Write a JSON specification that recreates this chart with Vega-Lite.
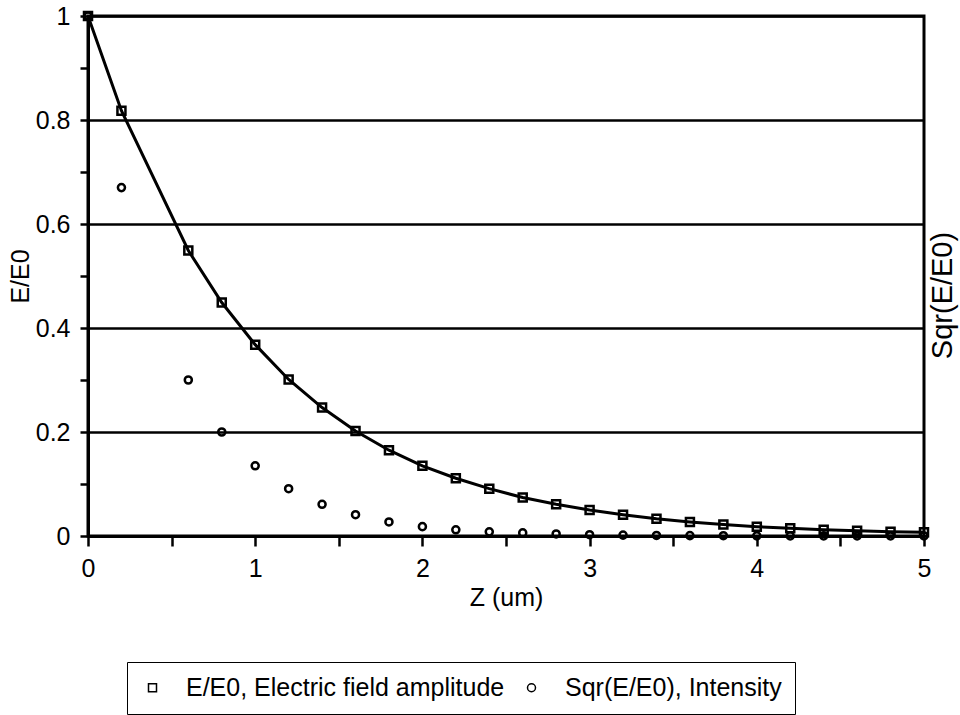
{
  "$schema": "https://vega.github.io/schema/vega-lite/v6.json",
  "width": 836,
  "height": 520,
  "autosize": "none",
  "padding": {"left": 88, "top": 16, "right": 36, "bottom": 179},
  "background": "white",
  "config": {
    "view": {"stroke": "black", "strokeWidth": 3},
    "font": "Liberation Sans",
    "axis": {
      "domainColor": "black", "domainWidth": 3, "tickColor": "black", "tickWidth": 2.5,
      "labelFont": "Liberation Sans", "labelFontSize": 25, "labelColor": "black",
      "titleFont": "Liberation Sans", "titleFontSize": 25, "titleFontWeight": "normal", "titleColor": "black"
    }
  },
  "data": {"values": [
    {"z": 0, "v": 1.0, "s": "E/E0, Electric field amplitude"},
    {"z": 0.2, "v": 0.818, "s": "E/E0, Electric field amplitude"},
    {"z": 0.6, "v": 0.549, "s": "E/E0, Electric field amplitude"},
    {"z": 0.8, "v": 0.449, "s": "E/E0, Electric field amplitude"},
    {"z": 1.0, "v": 0.368, "s": "E/E0, Electric field amplitude"},
    {"z": 1.2, "v": 0.301, "s": "E/E0, Electric field amplitude"},
    {"z": 1.4, "v": 0.247, "s": "E/E0, Electric field amplitude"},
    {"z": 1.6, "v": 0.202, "s": "E/E0, Electric field amplitude"},
    {"z": 1.8, "v": 0.165, "s": "E/E0, Electric field amplitude"},
    {"z": 2.0, "v": 0.135, "s": "E/E0, Electric field amplitude"},
    {"z": 2.2, "v": 0.111, "s": "E/E0, Electric field amplitude"},
    {"z": 2.4, "v": 0.091, "s": "E/E0, Electric field amplitude"},
    {"z": 2.6, "v": 0.074, "s": "E/E0, Electric field amplitude"},
    {"z": 2.8, "v": 0.061, "s": "E/E0, Electric field amplitude"},
    {"z": 3.0, "v": 0.050, "s": "E/E0, Electric field amplitude"},
    {"z": 3.2, "v": 0.041, "s": "E/E0, Electric field amplitude"},
    {"z": 3.4, "v": 0.033, "s": "E/E0, Electric field amplitude"},
    {"z": 3.6, "v": 0.027, "s": "E/E0, Electric field amplitude"},
    {"z": 3.8, "v": 0.022, "s": "E/E0, Electric field amplitude"},
    {"z": 4.0, "v": 0.018, "s": "E/E0, Electric field amplitude"},
    {"z": 4.2, "v": 0.015, "s": "E/E0, Electric field amplitude"},
    {"z": 4.4, "v": 0.012, "s": "E/E0, Electric field amplitude"},
    {"z": 4.6, "v": 0.010, "s": "E/E0, Electric field amplitude"},
    {"z": 4.8, "v": 0.008, "s": "E/E0, Electric field amplitude"},
    {"z": 5.0, "v": 0.007, "s": "E/E0, Electric field amplitude"},
    {"z": 0, "v": 1.0, "s": "Sqr(E/E0), Intensity"},
    {"z": 0.2, "v": 0.67, "s": "Sqr(E/E0), Intensity"},
    {"z": 0.6, "v": 0.30, "s": "Sqr(E/E0), Intensity"},
    {"z": 0.8, "v": 0.20, "s": "Sqr(E/E0), Intensity"},
    {"z": 1.0, "v": 0.135, "s": "Sqr(E/E0), Intensity"},
    {"z": 1.2, "v": 0.091, "s": "Sqr(E/E0), Intensity"},
    {"z": 1.4, "v": 0.061, "s": "Sqr(E/E0), Intensity"},
    {"z": 1.6, "v": 0.041, "s": "Sqr(E/E0), Intensity"},
    {"z": 1.8, "v": 0.027, "s": "Sqr(E/E0), Intensity"},
    {"z": 2.0, "v": 0.018, "s": "Sqr(E/E0), Intensity"},
    {"z": 2.2, "v": 0.012, "s": "Sqr(E/E0), Intensity"},
    {"z": 2.4, "v": 0.008, "s": "Sqr(E/E0), Intensity"},
    {"z": 2.6, "v": 0.006, "s": "Sqr(E/E0), Intensity"},
    {"z": 2.8, "v": 0.004, "s": "Sqr(E/E0), Intensity"},
    {"z": 3.0, "v": 0.0025, "s": "Sqr(E/E0), Intensity"},
    {"z": 3.2, "v": 0.0017, "s": "Sqr(E/E0), Intensity"},
    {"z": 3.4, "v": 0.0011, "s": "Sqr(E/E0), Intensity"},
    {"z": 3.6, "v": 0.0007, "s": "Sqr(E/E0), Intensity"},
    {"z": 3.8, "v": 0.0005, "s": "Sqr(E/E0), Intensity"},
    {"z": 4.0, "v": 0.0003, "s": "Sqr(E/E0), Intensity"},
    {"z": 4.2, "v": 0.0002, "s": "Sqr(E/E0), Intensity"},
    {"z": 4.4, "v": 0.0002, "s": "Sqr(E/E0), Intensity"},
    {"z": 4.6, "v": 0.0001, "s": "Sqr(E/E0), Intensity"},
    {"z": 4.8, "v": 0.0001, "s": "Sqr(E/E0), Intensity"},
    {"z": 5.0, "v": 0.00005, "s": "Sqr(E/E0), Intensity"}
  ]},
  "encoding": {
    "x": {
      "field": "z", "type": "quantitative",
      "scale": {"domain": [0, 5], "nice": false},
      "axis": {
        "title": "Z (um)", "grid": false, "format": "~g",
        "values": [0, 0.5, 1, 1.5, 2, 2.5, 3, 3.5, 4, 4.5, 5],
        "labelExpr": "datum.value % 1 === 0 ? datum.label : ''",
        "tickSize": 10, "labelPadding": 10, "titlePadding": 4, "labelFlush": false
      }
    }
  },
  "layer": [
    {
      "layer": [
        {
          "transform": [{"filter": "datum.s === 'E/E0, Electric field amplitude'"}],
          "mark": {"type": "line", "color": "black", "strokeWidth": 3},
          "encoding": {
            "y": {
              "field": "v", "type": "quantitative",
              "scale": {"domain": [0, 1], "nice": false},
              "axis": {
                "title": "E/E0", "titlePadding": 2, "format": "~g",
                "values": [0, 0.1, 0.2, 0.3, 0.4, 0.5, 0.6, 0.7, 0.8, 0.9, 1],
                "labelExpr": "round(datum.value * 10) % 2 === 0 ? datum.label : ''",
                "tickSize": 8, "labelPadding": 10, "labelFlush": false,
                "grid": true, "gridColor": "black", "gridWidth": 2.5,
                "gridOpacity": {"condition": {"test": "round(datum.value * 10) % 2 === 0", "value": 1}, "value": 0}
              }
            }
          }
        },
        {
          "transform": [{"filter": "datum.s === 'E/E0, Electric field amplitude'"}],
          "mark": {"type": "point", "stroke": "black", "strokeWidth": 2.5, "size": 64, "opacity": 1},
          "encoding": {
            "y": {"field": "v", "type": "quantitative", "scale": {"domain": [0, 1], "nice": false}},
            "shape": {
              "field": "s", "type": "nominal",
              "scale": {"domain": ["E/E0, Electric field amplitude", "Sqr(E/E0), Intensity"], "range": ["square", "circle"]},
              "legend": {
                "title": null, "orient": "none", "direction": "horizontal",
                "columns": 2,
                "legendX": 39, "legendY": 646,
                "strokeColor": "black",
                "padding": 13,
                "labelFont": "Liberation Sans", "labelFontSize": 25, "labelColor": "black", "labelLimit": 600,
                "labelExpr": "datum.label === 'Sqr(E/E0), Intensity' ? datum.label + '              ' : datum.label",
                "symbolSize": 64,
                "labelOffset": 21, "columnPadding": 14,
                "encode": {
                  "symbols": {"update": {
                    "shape": [
                      {"test": "datum.value === 'E/E0, Electric field amplitude'", "value": "M-4.5,0H-1M1,0H4.5M-1,-1H1V1H-1Z"},
                      {"value": "circle"}
                    ],
                    "strokeWidth": {"value": 2.5}
                  }},
                  "legend": {"update": {"strokeWidth": {"value": 3}}}
                }
              }
            }
          }
        }
      ]
    },
    {
      "transform": [{"filter": "datum.s === 'Sqr(E/E0), Intensity'"}],
      "mark": {"type": "point", "stroke": "black", "strokeWidth": 2.5, "size": 50, "opacity": 1},
      "encoding": {
        "y": {
          "field": "v", "type": "quantitative",
          "scale": {"domain": [0, 1], "nice": false},
          "axis": {"orient": "right", "title": "Sqr(E/E0)", "titleFontSize": 29, "titleAngle": 270, "titleY": 279, "labels": false, "ticks": false, "grid": false, "domain": false, "titlePadding": 33}
        },
        "shape": {"field": "s", "type": "nominal"}
      }
    }
  ],
  "resolve": {"scale": {"y": "independent"}}
}
